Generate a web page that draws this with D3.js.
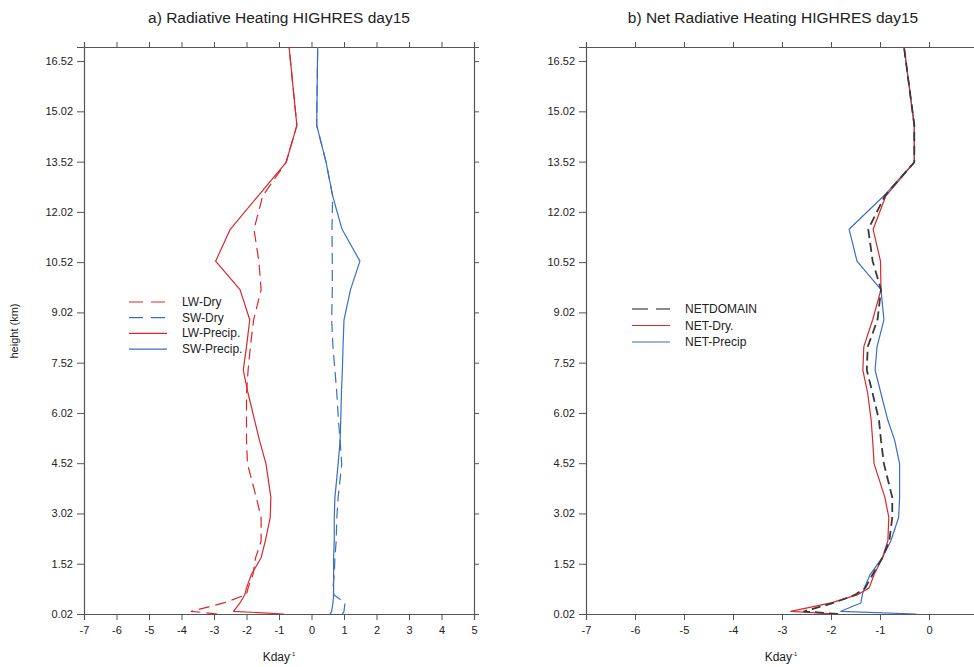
<!DOCTYPE html>
<html>
<head>
<meta charset="utf-8">
<script src="https://cdn.jsdelivr.net/npm/d3@7"></script>
<style>
  html, body { margin: 0; padding: 0; background: #fff; }
  svg { display: block; font-family: "Liberation Sans", Arial, sans-serif; }
</style>
</head>
<body>
<svg id="chart" width="974" height="667"></svg>
<script>
// Model levels (km) shared by every profile
const heights = [0.02, 0.1, 0.35, 0.6, 0.8, 1.2, 1.7, 2.2, 2.9, 3.5, 4.5, 5.2, 5.8, 6.6, 7.3, 8.0, 8.8, 9.7, 10.55, 11.5, 12.5, 13.5, 14.6, 16.94];

// Panel a: longwave / shortwave heating rates (K/day)
const lwDry    = [-2.9, -3.7, -2.7, -2.0, -1.95, -1.8, -1.72, -1.55, -1.55, -1.7, -1.97, -2.0, -2.0, -2.0, -1.95, -1.88, -1.78, -1.55, -1.62, -1.77, -1.5, -0.78, -0.45, -0.69];
const swDry    = [0.95, 1.0, 1.03, 0.68, 0.66, 0.7, 0.72, 0.76, 0.78, 0.82, 0.93, 0.88, 0.83, 0.78, 0.72, 0.66, 0.62, 0.64, 0.64, 0.63, 0.65, 0.45, 0.16, 0.19];
const lwPrecip = [-0.85, -2.4, -2.2, -2.05, -2.0, -1.85, -1.55, -1.42, -1.27, -1.25, -1.4, -1.6, -1.75, -1.95, -2.1, -2.0, -1.9, -2.2, -2.95, -2.5, -1.64, -0.78, -0.45, -0.69];
const swPrecip = [0.57, 0.62, 0.66, 0.68, 0.68, 0.68, 0.68, 0.7, 0.7, 0.72, 0.82, 0.88, 0.9, 0.92, 0.95, 0.97, 1.0, 1.2, 1.49, 0.94, 0.65, 0.45, 0.16, 0.19];

// Panel b: net radiative heating (K/day)
const netDomain = [-1.86, -2.55, -1.95, -1.5, -1.3, -1.15, -0.95, -0.81, -0.75, -0.75, -0.92, -0.98, -1.02, -1.15, -1.27, -1.25, -1.05, -0.98, -1.15, -1.24, -0.9, -0.3, -0.3, -0.51];
const netDry    = [-1.9, -2.82, -2.0, -1.45, -1.22, -1.12, -0.95, -0.84, -0.82, -0.9, -1.12, -1.15, -1.18, -1.25, -1.35, -1.33, -1.15, -0.98, -0.99, -1.14, -0.88, -0.3, -0.3, -0.51];
const netPrecip = [-0.26, -1.8, -1.39, -1.36, -1.32, -1.2, -0.95, -0.78, -0.62, -0.6, -0.6, -0.7, -0.84, -0.98, -1.1, -1.06, -0.92, -0.98, -1.47, -1.63, -0.92, -0.3, -0.3, -0.51];

// Tick values
const heightTicks = [0.02, 1.52, 3.02, 4.52, 6.02, 7.52, 9.02, 10.52, 12.02, 13.52, 15.02, 16.52];
const xTicksA = [-7, -6, -5, -4, -3, -2, -1, 0, 1, 2, 3, 4, 5];
const xTicksB = [-7, -6, -5, -4, -3, -2, -1, 0];

const RED = "#d8282d", BLUE = "#3b6ec4", AXIS = "#555";

const svg = d3.select("#chart");
const plotTop = 47, plotBottom = 614;
const y = d3.scaleLinear().domain([0.02, 16.94]).range([plotBottom, plotTop]);

function panel(opts) {
  const x = d3.scaleLinear().domain(opts.domain).range(opts.range);
  const g = svg.append("g");
  const clipId = "clip-" + opts.id;
  svg.append("clipPath").attr("id", clipId).append("rect")
    .attr("x", opts.range[0]).attr("y", plotTop)
    .attr("width", opts.range[1] - opts.range[0]).attr("height", plotBottom - plotTop);

  // axes (plain ASCII hyphen for negative tick labels)
  const axL = d3.axisLeft(y).tickValues(heightTicks).tickFormat(d => d.toFixed(2)).tickSize(7).tickPadding(4);
  const axR = d3.axisRight(y).tickValues(heightTicks).tickFormat("").tickSize(5);
  const axB = d3.axisBottom(x).tickValues(opts.ticks).tickFormat(d => String(d)).tickSize(6).tickPadding(6);
  const axT = d3.axisTop(x).tickValues(opts.ticks).tickFormat("").tickSize(5);

  const styleAxis = sel => {
    sel.selectAll("path").attr("stroke", AXIS).attr("stroke-width", 1.2);
    sel.selectAll("line").attr("stroke", AXIS);
    sel.selectAll("text").attr("fill", "#222").style("font-size", "11px")
      .style("font-family", "'Liberation Sans', Arial, sans-serif");
  };
  g.append("g").attr("transform", `translate(${opts.range[0]},0)`).call(axL).call(styleAxis);
  g.append("g").attr("transform", `translate(${opts.range[1]},0)`).call(axR).call(styleAxis);
  g.append("g").attr("transform", `translate(0,${plotBottom})`).call(axB).call(styleAxis);
  g.append("g").attr("transform", `translate(0,${plotTop})`).call(axT).call(styleAxis);

  // profiles
  const line = d3.line().x(d => x(d[0])).y(d => y(d[1]));
  const lines = g.append("g").attr("clip-path", `url(#${clipId})`);
  opts.series.forEach(s => {
    lines.append("path")
      .datum(s.values.map((v, i) => [v, heights[i]]))
      .attr("d", line)
      .attr("fill", "none")
      .attr("stroke", s.color)
      .attr("stroke-width", s.width)
      .attr("stroke-dasharray", s.dash || null)
      .attr("stroke-linejoin", "round");
  });

  // title
  svg.append("text").attr("x", opts.titleX).attr("y", 23)
    .attr("text-anchor", "middle").attr("fill", "#222")
    .style("font-size", "15.5px").text(opts.title);

  // x-axis label: Kday^-1
  const lab = svg.append("text").attr("x", opts.labelX).attr("y", 661)
    .attr("text-anchor", "middle").attr("fill", "#222").style("font-size", "12px");
  lab.append("tspan").text("Kday");
  lab.append("tspan").attr("dy", -5).style("font-size", "6px").text("-1");

  // legend
  const lg = svg.append("g");
  opts.legend.forEach((s, i) => {
    const ly = opts.legendY + i * opts.legendStep;
    lg.append("line")
      .attr("x1", opts.legendX).attr("x2", opts.legendX + opts.legendLen)
      .attr("y1", ly).attr("y2", ly)
      .attr("stroke", s.legendColor || s.color).attr("stroke-width", s.legendWidth || s.width)
      .attr("stroke-dasharray", s.legendDash || s.dash || null);
    lg.append("text").attr("x", opts.legendX + opts.legendLen + 15).attr("y", ly + 4)
      .attr("fill", "#222").style("font-size", "12px").text(s.name);
  });
}

const seriesA = [
  { name: "LW-Dry",     values: lwDry,    color: RED,  width: 1.2, dash: "11,6", legendDash: "14,8" },
  { name: "SW-Dry",     values: swDry,    color: BLUE, width: 1.2, dash: "11,6", legendDash: "14,8" },
  { name: "LW-Precip.", values: lwPrecip, color: RED,  width: 1.2 },
  { name: "SW-Precip.", values: swPrecip, color: BLUE, width: 1.2 }
];

panel({
  id: "a", domain: [-7, 5], range: [84, 474], ticks: xTicksA,
  title: "a) Radiative Heating HIGHRES day15", titleX: 279, labelX: 279,
  series: seriesA, legend: seriesA,
  legendX: 129, legendY: 302, legendStep: 15.7, legendLen: 38
});

const seriesB = [
  { name: "NET-Precip", values: netPrecip, color: BLUE,   width: 1.2 },
  { name: "NET-Dry.",   values: netDry,    color: RED,    width: 1.2 },
  { name: "NETDOMAIN",  values: netDomain, color: "#3a3a3a", width: 1.8, dash: "9,5",
    legendDash: "16,8", legendColor: "#666", legendWidth: 1.6 }
];

panel({
  id: "b", domain: [-7, 1], range: [586, 978], ticks: xTicksB,
  title: "b) Net Radiative Heating HIGHRES day15", titleX: 773, labelX: 781,
  series: seriesB, legend: [seriesB[2], seriesB[1], seriesB[0]],
  legendX: 632, legendY: 309, legendStep: 16.5, legendLen: 38
});

// y-axis title
svg.append("text")
  .attr("transform", "translate(18,331) rotate(-90)")
  .attr("text-anchor", "middle").attr("fill", "#222")
  .style("font-size", "11px").text("height (km)");
</script>
</body>
</html>
